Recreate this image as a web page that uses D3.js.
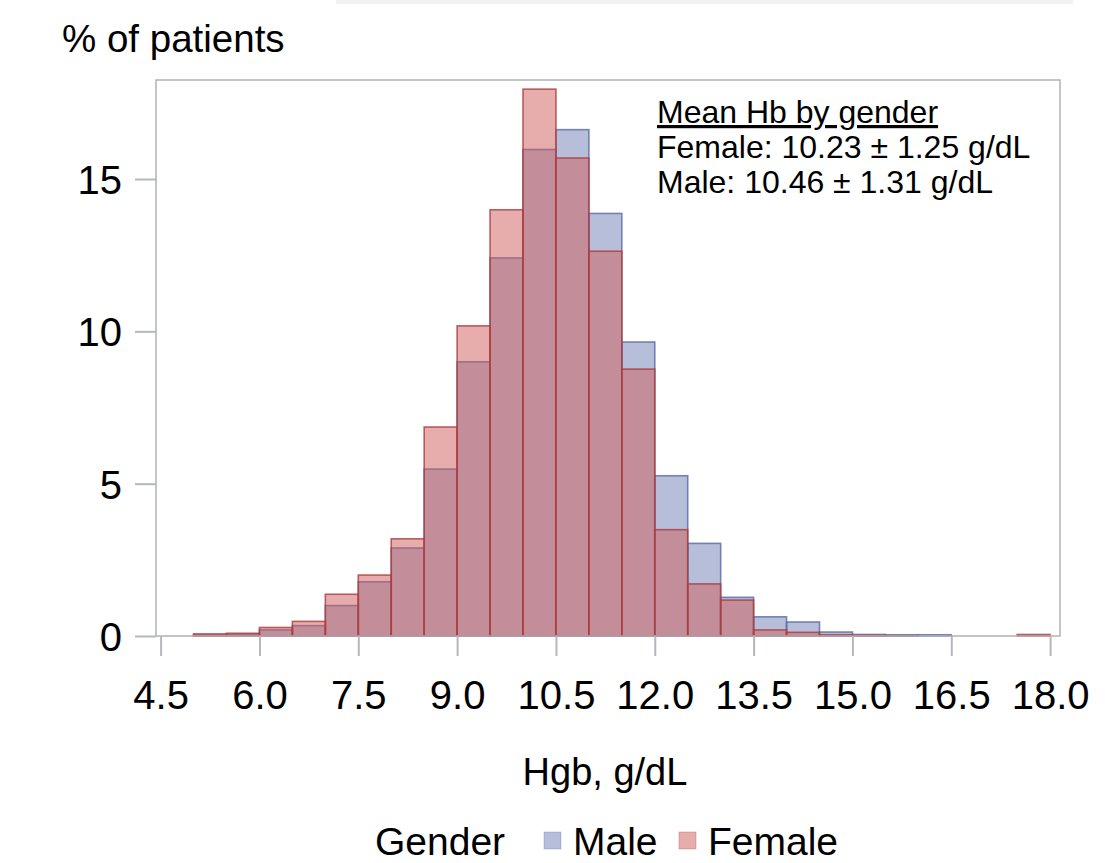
<!DOCTYPE html>
<html>
<head>
<meta charset="utf-8">
<script src="https://cdn.jsdelivr.net/npm/d3@7"></script>
<style>
body { margin: 0; background: #fff; }
text { font-family: "Liberation Sans", Arial, sans-serif; fill: #000; }
</style>
</head>
<body>
<script>
// Data: % of patients per 0.5 g/dL Hgb bin
var binStart = [5.0, 5.5, 6.0, 6.5, 7.0, 7.5, 8.0, 8.5, 9.0, 9.5, 10.0, 10.5, 11.0,
	11.5, 12.0, 12.5, 13.0, 13.5, 14.0, 14.5, 15.0, 15.5, 16.0, 16.5, 17.0, 17.5];
var binWidth = 0.5;
var male = [0.03, 0.05, 0.2, 0.34, 1.0, 1.78, 2.89, 5.48, 9.0, 12.41, 15.97, 16.62, 13.87,
	9.65, 5.26, 3.04, 1.27, 0.63, 0.46, 0.13, 0.05, 0.04, 0.04, 0, 0, 0];
var female = [0.07, 0.09, 0.28, 0.48, 1.37, 2.0, 3.19, 6.86, 10.18, 13.99, 17.95, 15.69, 12.63,
	8.76, 3.49, 1.71, 1.18, 0.2, 0.12, 0.04, 0.02, 0.01, 0, 0, 0, 0.05];
var xTicks = [4.5, 6.0, 7.5, 9.0, 10.5, 12.0, 13.5, 15.0, 16.5, 18.0];
var yTicks = [0, 5, 10, 15];
var seriesNames = ["Male", "Female"];
var noteLines = ["Female: 10.23 \u00b1 1.25 g/dL", "Male: 10.46 \u00b1 1.31 g/dL"];

var W = 1105, H = 863;
var plot = { left: 156, right: 1060, top: 80, bottom: 636 };

var svg = d3.select("body").append("svg").attr("width", W).attr("height", H);

// faint strip at top of the original screenshot
svg.append("rect").attr("x", 336).attr("y", 0).attr("width", 737).attr("height", 4)
	.style("fill", "#f2f2f2");

var x = d3.scaleLinear().domain([4.43, 18.15]).range([plot.left, plot.right]);
var y = d3.scaleLinear().domain([0, 18.25]).range([plot.bottom, plot.top]);

var colors = {
	Male: { fill: "#6F7EB3", stroke: "#5a6aa8" },
	Female: { fill: "#D05B5B", stroke: "#ac3c3c" }
};

function bins(values) {
	return binStart.map(function(b, i) {
		return { x0: b, x1: b + binWidth, v: values[i] };
	});
}

var series = [ { name: "Male", bins: bins(male) }, { name: "Female", bins: bins(female) } ];

series.forEach(function(s) {
	svg.append("g").attr("class", "bars " + s.name).selectAll("rect")
		.data(s.bins.filter(function(d) { return d.v > 0; }))
		.enter().append("rect")
		.attr("x", function(d) { return x(d.x0); })
		.attr("width", function(d) { return x(d.x1) - x(d.x0); })
		.attr("y", function(d) { return y(d.v); })
		.attr("height", function(d) { return y(0) - y(d.v); })
		.style("fill", colors[s.name].fill)
		.style("fill-opacity", 0.5)
		.style("stroke", colors[s.name].stroke)
		.style("stroke-opacity", 0.8)
		.style("stroke-width", 1.6);
});

// frame
svg.append("rect").attr("x", plot.left).attr("y", plot.top)
	.attr("width", plot.right - plot.left).attr("height", plot.bottom - plot.top)
	.style("fill", "none").style("stroke", "#aeb2b6").style("stroke-width", 1.5);

var xAxis = d3.axisBottom(x).tickValues(xTicks).tickSize(20).tickFormat(d3.format(".1f"));
var gx = svg.append("g").attr("transform", "translate(0," + plot.bottom + ")").call(xAxis);
gx.select(".domain").remove();
gx.selectAll("line").style("stroke", "#b4b8bc").style("stroke-width", 2);
gx.selectAll("text").attr("y", 73).attr("dy", 0)
	.style("font-size", "40px").style("font-family", "Liberation Sans, Arial, sans-serif");

var yAxis = d3.axisLeft(y).tickValues(yTicks).tickSize(21).tickPadding(13);
var gy = svg.append("g").attr("transform", "translate(" + plot.left + ",0)").call(yAxis);
gy.select(".domain").remove();
gy.selectAll("line").style("stroke", "#b4b8bc").style("stroke-width", 2);
gy.selectAll("text").attr("dy", "0.36em")
	.style("font-size", "40px").style("font-family", "Liberation Sans, Arial, sans-serif");

svg.append("text").attr("x", 62).attr("y", 52).style("font-size", "38.5px").text("% of patients");
svg.append("text").attr("x", 605).attr("y", 785).style("font-size", "38px")
	.style("text-anchor", "middle").text("Hgb, g/dL");

// annotation
var note = svg.append("g").attr("transform", "translate(657,0)");
note.append("text").attr("y", 123).style("font-size", "32px")
	.style("text-decoration", "underline").text("Mean Hb by gender");
note.selectAll(".line").data(noteLines).enter().append("text")
	.attr("y", function(d, i) { return 158 + i * 35; })
	.style("font-size", "32px").text(function(d) { return d; });

// legend
svg.append("text").attr("x", 375).attr("y", 855).style("font-size", "39px").text("Gender");
var legendX = { Male: 544, Female: 679 };
var leg = svg.selectAll(".legend").data(seriesNames).enter().append("g")
	.attr("class", "legend")
	.attr("transform", function(d) { return "translate(" + legendX[d] + ",832)"; });
leg.append("rect").attr("width", 17).attr("height", 17)
	.style("fill", function(d) { return colors[d].fill; }).style("fill-opacity", 0.5)
	.style("stroke", function(d) { return colors[d].stroke; }).style("stroke-opacity", 0.3);
leg.append("text").attr("x", 29).attr("y", 23).style("font-size", "39px")
	.text(function(d) { return d; });
</script>
</body>
</html>
